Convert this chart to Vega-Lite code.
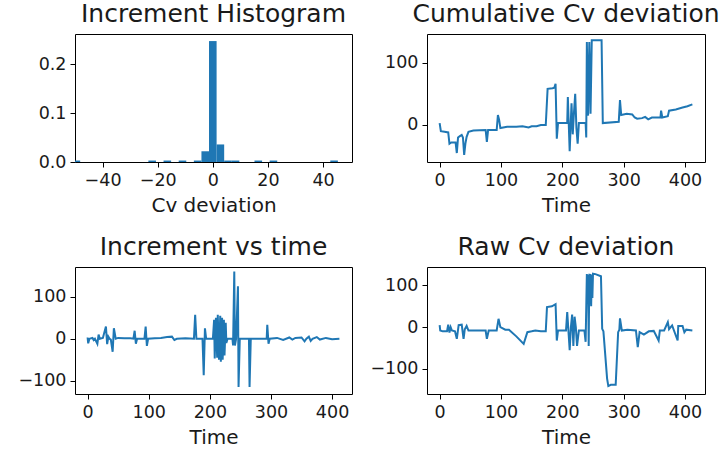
{
  "$schema": "https://vega.github.io/schema/vega-lite/v6.json",
  "background": "white",
  "padding": {"left": 17, "top": 1, "right": 0, "bottom": 0},
  "columns": 2,
  "bounds": "flush",
  "spacing": {"row": 105, "column": 75},
  "config": {
    "font": "DejaVu Sans",
    "view": {"stroke": "black", "strokeWidth": 1},
    "axis": {
      "grid": false,
      "domain": false,
      "tickColor": "black",
      "tickSize": 5,
      "tickWidth": 1,
      "labelFont": "DejaVu Sans",
      "labelFontSize": 17.5,
      "labelColor": "#1a1a1a",
      "labelPadding": 4,
      "titleFont": "DejaVu Sans",
      "titleFontSize": 20,
      "titleFontWeight": "normal",
      "titleColor": "#1a1a1a",
      "titlePadding": 7
    },
    "title": {"font": "DejaVu Sans", "fontSize": 25, "fontWeight": "normal", "color": "#1a1a1a", "baseline": "alphabetic", "offset": 7},
    "line": {"color": "#1f77b4", "strokeWidth": 2},
    "bar": {"color": "#1f77b4"}
  },
  "datasets": {
    "hist": [
      {"x0": -50.875, "x1": -48.125, "density": 0.003},
      {"x0": -23.375, "x1": -20.625, "density": 0.003},
      {"x0": -17.875, "x1": -15.125, "density": 0.003},
      {"x0": -12.375, "x1": -9.625, "density": 0.003},
      {"x0": -6.875, "x1": -4.125, "density": 0.003},
      {"x0": -4.125, "x1": -1.375, "density": 0.022},
      {"x0": -1.375, "x1": 1.375, "density": 0.248},
      {"x0": 1.375, "x1": 4.125, "density": 0.036},
      {"x0": 4.125, "x1": 6.875, "density": 0.003},
      {"x0": 6.875, "x1": 9.625, "density": 0.003},
      {"x0": 15.125, "x1": 17.875, "density": 0.003},
      {"x0": 20.625, "x1": 23.375, "density": 0.003},
      {"x0": 42.625, "x1": 45.375, "density": 0.003}
    ],
    "cumulative": [
      {"t": 0, "v": 3}, {"t": 2, "v": -10}, {"t": 8, "v": -11}, {"t": 14, "v": -12},
      {"t": 16, "v": -30}, {"t": 19, "v": -28}, {"t": 22, "v": -28}, {"t": 26, "v": -28},
      {"t": 28, "v": -45}, {"t": 30, "v": -20}, {"t": 33, "v": -18}, {"t": 36, "v": -16},
      {"t": 38, "v": -20}, {"t": 40, "v": -48}, {"t": 42, "v": -30}, {"t": 44, "v": -19},
      {"t": 47, "v": -11}, {"t": 55, "v": -9}, {"t": 65, "v": -8.5}, {"t": 75, "v": -8},
      {"t": 77, "v": -27}, {"t": 79, "v": -8}, {"t": 93, "v": -8}, {"t": 95, "v": 16},
      {"t": 97, "v": 8}, {"t": 99, "v": -5}, {"t": 110, "v": -3}, {"t": 125, "v": -3},
      {"t": 135, "v": -2}, {"t": 145, "v": -4}, {"t": 150, "v": -2}, {"t": 158, "v": -2},
      {"t": 165, "v": 0}, {"t": 173, "v": 0}, {"t": 176, "v": 58}, {"t": 184, "v": 59},
      {"t": 187, "v": 60}, {"t": 189, "v": 66}, {"t": 191, "v": -22}, {"t": 193, "v": 3},
      {"t": 208, "v": 3}, {"t": 209, "v": 45}, {"t": 212, "v": -42}, {"t": 215, "v": 35},
      {"t": 217, "v": -15}, {"t": 219, "v": 20}, {"t": 221, "v": 50}, {"t": 223, "v": -5},
      {"t": 225, "v": -30}, {"t": 227, "v": 3}, {"t": 238, "v": 3}, {"t": 239, "v": -20},
      {"t": 240, "v": 133}, {"t": 242, "v": 15}, {"t": 244, "v": 133}, {"t": 246, "v": 18},
      {"t": 248, "v": 136}, {"t": 250, "v": 136}, {"t": 264, "v": 136}, {"t": 266, "v": 3},
      {"t": 292, "v": 5}, {"t": 294, "v": 40}, {"t": 296, "v": 16}, {"t": 305, "v": 18},
      {"t": 314, "v": 17}, {"t": 318, "v": 12}, {"t": 322, "v": 10}, {"t": 330, "v": 11},
      {"t": 335, "v": 13}, {"t": 340, "v": 9}, {"t": 346, "v": 12}, {"t": 360, "v": 12},
      {"t": 361, "v": 23}, {"t": 363, "v": 12}, {"t": 372, "v": 14}, {"t": 374, "v": 23},
      {"t": 385, "v": 25}, {"t": 396, "v": 28}, {"t": 404, "v": 30}, {"t": 412, "v": 33}
    ],
    "increment": [
      {"t": 0, "v": 3}, {"t": 1, "v": -11}, {"t": 3, "v": 0}, {"t": 8, "v": 2},
      {"t": 10, "v": -3}, {"t": 12, "v": 0}, {"t": 16, "v": -12}, {"t": 18, "v": 10},
      {"t": 20, "v": 0}, {"t": 25, "v": 2}, {"t": 30, "v": 29}, {"t": 32, "v": -13},
      {"t": 34, "v": 5}, {"t": 36, "v": 0}, {"t": 38, "v": -2}, {"t": 41, "v": -31},
      {"t": 43, "v": 25}, {"t": 46, "v": 0}, {"t": 50, "v": 2}, {"t": 60, "v": 1},
      {"t": 70, "v": 1}, {"t": 75, "v": 0}, {"t": 77, "v": 19}, {"t": 79, "v": -12},
      {"t": 81, "v": 0}, {"t": 93, "v": 0}, {"t": 95, "v": 29}, {"t": 97, "v": -17},
      {"t": 99, "v": 0}, {"t": 110, "v": 1}, {"t": 120, "v": 2}, {"t": 130, "v": 4},
      {"t": 138, "v": 5}, {"t": 142, "v": -3}, {"t": 146, "v": 0}, {"t": 160, "v": 1},
      {"t": 174, "v": 0}, {"t": 176, "v": 57}, {"t": 178, "v": 0}, {"t": 188, "v": 0},
      {"t": 190, "v": -87}, {"t": 192, "v": 25}, {"t": 194, "v": 0}, {"t": 205, "v": 0},
      {"t": 207, "v": 45}, {"t": 208, "v": -47}, {"t": 210, "v": 50}, {"t": 212, "v": -45},
      {"t": 213, "v": 57}, {"t": 215, "v": -50}, {"t": 217, "v": 55}, {"t": 218, "v": -55},
      {"t": 220, "v": 50}, {"t": 221, "v": -50}, {"t": 223, "v": 45}, {"t": 224, "v": -40},
      {"t": 226, "v": 38}, {"t": 227, "v": -10}, {"t": 229, "v": 0}, {"t": 237, "v": 0},
      {"t": 238, "v": -16}, {"t": 240, "v": 160}, {"t": 241, "v": -16}, {"t": 243, "v": 0},
      {"t": 246, "v": 125}, {"t": 247, "v": -115}, {"t": 249, "v": 0}, {"t": 264, "v": 0},
      {"t": 265, "v": -115}, {"t": 267, "v": 0}, {"t": 293, "v": 0}, {"t": 294, "v": 33},
      {"t": 296, "v": -12}, {"t": 298, "v": 0}, {"t": 310, "v": 2}, {"t": 320, "v": -3},
      {"t": 330, "v": 3}, {"t": 335, "v": -2}, {"t": 340, "v": 2}, {"t": 350, "v": 3},
      {"t": 355, "v": -6}, {"t": 358, "v": 0}, {"t": 362, "v": 5}, {"t": 365, "v": -5},
      {"t": 368, "v": 0}, {"t": 375, "v": 4}, {"t": 380, "v": -2}, {"t": 390, "v": 2},
      {"t": 400, "v": -1}, {"t": 412, "v": 0}
    ],
    "raw": [
      {"t": 0, "v": 5}, {"t": 1, "v": -8}, {"t": 5, "v": -10}, {"t": 12, "v": -10},
      {"t": 14, "v": 6}, {"t": 16, "v": -13}, {"t": 18, "v": 0}, {"t": 20, "v": -8},
      {"t": 25, "v": -10}, {"t": 28, "v": -28}, {"t": 31, "v": 5}, {"t": 36, "v": 6},
      {"t": 39, "v": -28}, {"t": 41, "v": -5}, {"t": 44, "v": 3}, {"t": 47, "v": -8},
      {"t": 60, "v": -8}, {"t": 75, "v": -8}, {"t": 77, "v": -28}, {"t": 80, "v": -8},
      {"t": 93, "v": -8}, {"t": 96, "v": 20}, {"t": 99, "v": 0}, {"t": 107, "v": -6},
      {"t": 113, "v": -6}, {"t": 125, "v": -22}, {"t": 137, "v": -40}, {"t": 143, "v": -12},
      {"t": 150, "v": -10}, {"t": 156, "v": -8}, {"t": 165, "v": -10}, {"t": 173, "v": -10},
      {"t": 175, "v": 48}, {"t": 183, "v": 50}, {"t": 189, "v": 55}, {"t": 191, "v": -32},
      {"t": 193, "v": -8}, {"t": 206, "v": -8}, {"t": 208, "v": 36}, {"t": 212, "v": -55},
      {"t": 214, "v": 0}, {"t": 216, "v": 30}, {"t": 218, "v": -45}, {"t": 220, "v": 25},
      {"t": 222, "v": 0}, {"t": 224, "v": -45}, {"t": 227, "v": -8}, {"t": 236, "v": -8},
      {"t": 238, "v": -35}, {"t": 240, "v": 127}, {"t": 241, "v": 60}, {"t": 242, "v": 125},
      {"t": 243, "v": -45}, {"t": 244, "v": 128}, {"t": 245, "v": 55}, {"t": 246, "v": 127},
      {"t": 247, "v": 50}, {"t": 248, "v": 125}, {"t": 249, "v": 70}, {"t": 250, "v": 128},
      {"t": 254, "v": 127}, {"t": 263, "v": 122}, {"t": 265, "v": -4}, {"t": 267, "v": -10},
      {"t": 273, "v": -123}, {"t": 275, "v": -141}, {"t": 279, "v": -138}, {"t": 287, "v": -138},
      {"t": 291, "v": -12}, {"t": 293, "v": -6}, {"t": 294, "v": 21}, {"t": 297, "v": -8},
      {"t": 306, "v": -6}, {"t": 320, "v": -8}, {"t": 323, "v": -48}, {"t": 326, "v": -12},
      {"t": 333, "v": -18}, {"t": 341, "v": -10}, {"t": 349, "v": -9}, {"t": 357, "v": -32},
      {"t": 359, "v": -8}, {"t": 366, "v": -8}, {"t": 372, "v": 12}, {"t": 374, "v": -5},
      {"t": 379, "v": 4}, {"t": 388, "v": -32}, {"t": 389, "v": 3}, {"t": 396, "v": 3},
      {"t": 399, "v": -12}, {"t": 402, "v": -6}, {"t": 412, "v": -8}
    ]
  },
  "concat": [
    {
      "title": "Increment Histogram",
      "width": 277,
      "height": 128,
      "data": {"name": "hist"},
      "mark": {"type": "bar", "clip": true},
      "encoding": {
        "x": {"field": "x0", "type": "quantitative", "scale": {"domain": [-50, 50.5], "nice": false, "zero": false}, "axis": {"values": [-40, -20, 0, 20, 40], "title": "Cv deviation"}},
        "x2": {"field": "x1"},
        "y": {"field": "density", "type": "quantitative", "scale": {"domain": [0, 0.2625], "nice": false}, "axis": {"values": [0, 0.1, 0.2], "format": ".1f", "title": null}},
        "y2": {"datum": 0}
      }
    },
    {
      "title": "Cumulative Cv deviation",
      "width": 278,
      "height": 128,
      "data": {"name": "cumulative"},
      "mark": {"type": "line", "clip": true},
      "encoding": {
        "x": {"field": "t", "type": "quantitative", "scale": {"domain": [-20.6, 432.6], "nice": false, "zero": false}, "axis": {"values": [0, 100, 200, 300, 400], "title": "Time"}},
        "y": {"field": "v", "type": "quantitative", "scale": {"domain": [-59.4, 146], "nice": false, "zero": false}, "axis": {"values": [0, 100], "title": null}}
      }
    },
    {
      "title": "Increment vs time",
      "width": 277,
      "height": 127,
      "data": {"name": "increment"},
      "mark": {"type": "line", "clip": true},
      "encoding": {
        "x": {"field": "t", "type": "quantitative", "scale": {"domain": [-20.6, 432.6], "nice": false, "zero": false}, "axis": {"values": [0, 100, 200, 300, 400], "title": "Time"}},
        "y": {"field": "v", "type": "quantitative", "scale": {"domain": [-131.7, 171], "nice": false, "zero": false}, "axis": {"values": [-100, 0, 100], "title": null}}
      }
    },
    {
      "title": "Raw Cv deviation",
      "width": 278,
      "height": 127,
      "data": {"name": "raw"},
      "mark": {"type": "line", "clip": true},
      "encoding": {
        "x": {"field": "t", "type": "quantitative", "scale": {"domain": [-20.6, 432.6], "nice": false, "zero": false}, "axis": {"values": [0, 100, 200, 300, 400], "title": "Time"}},
        "y": {"field": "v", "type": "quantitative", "scale": {"domain": [-160, 144], "nice": false, "zero": false}, "axis": {"values": [-100, 0, 100], "title": null}}
      }
    }
  ]
}
